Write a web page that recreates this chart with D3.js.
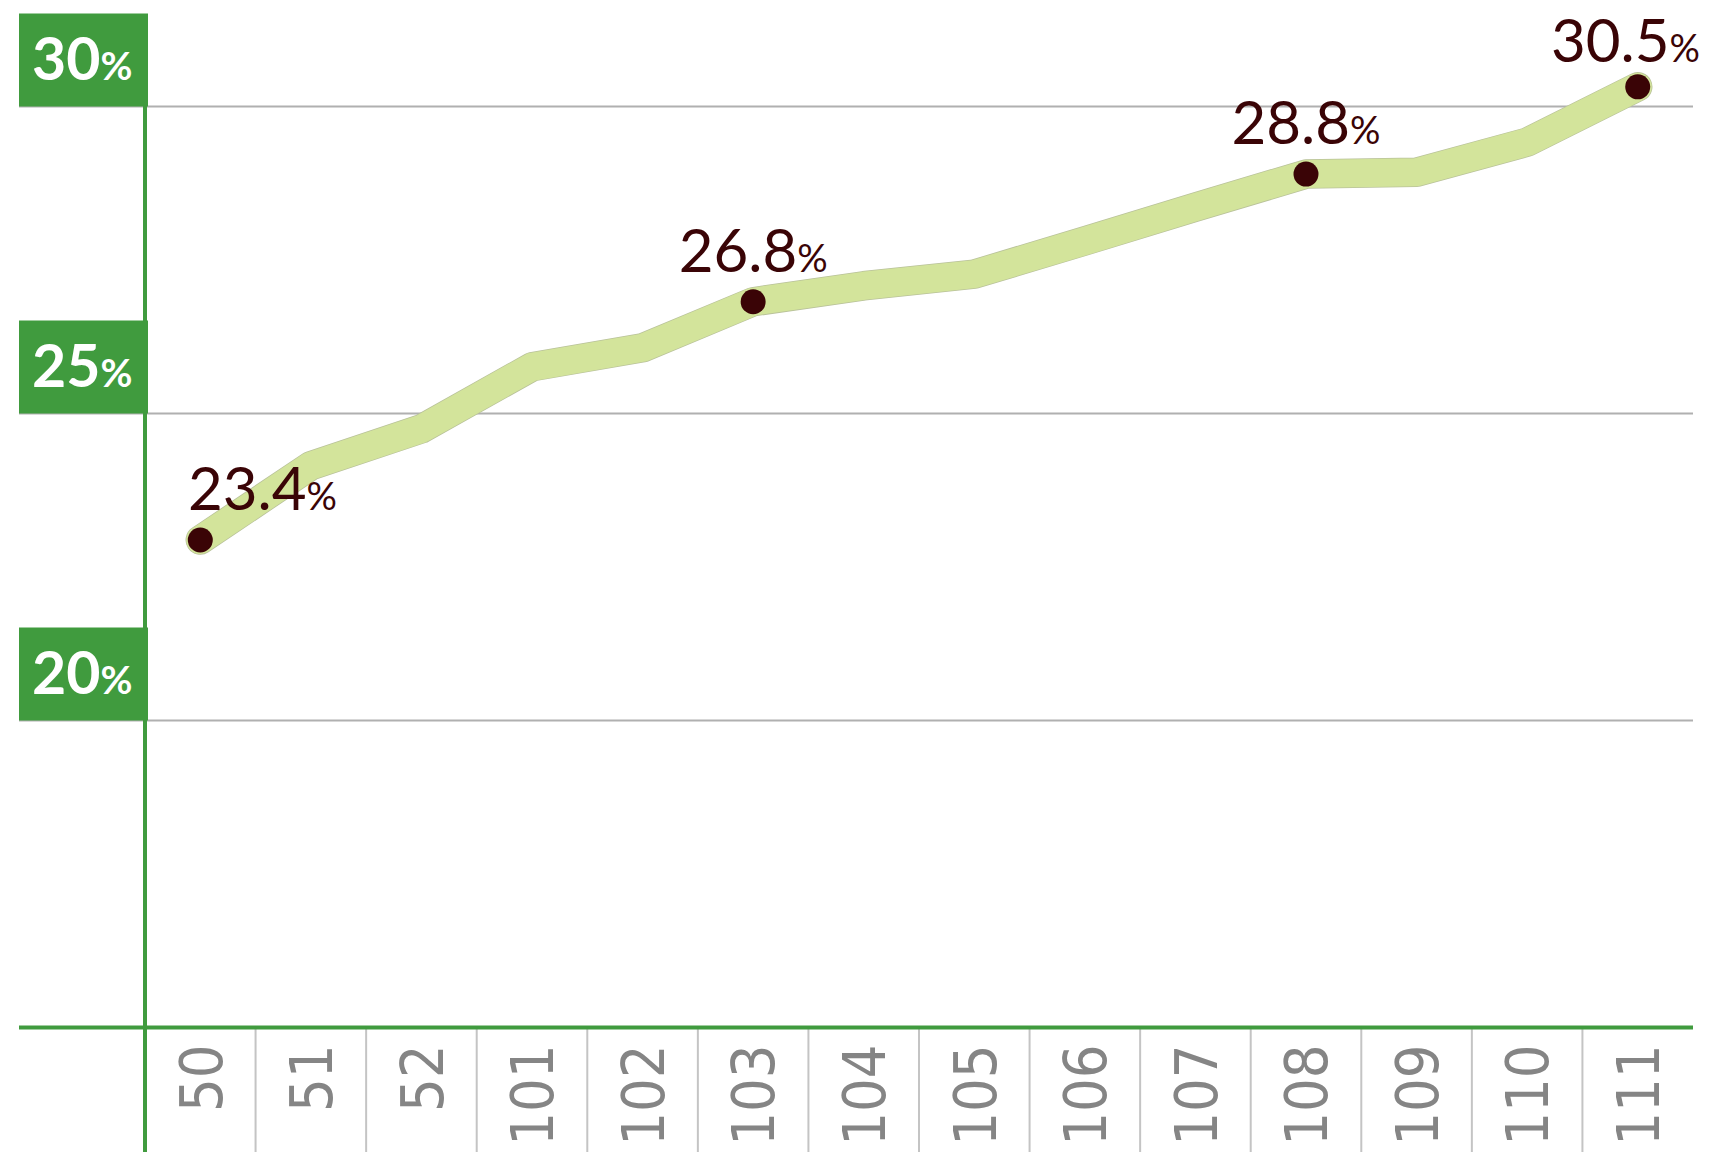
<!DOCTYPE html>
<html>
<head>
<meta charset="utf-8">
<script src="https://d3js.org/d3.v7.min.js"></script>
<style>
  body { margin: 0; background: #fff; }
  svg { display: block; }
</style>
</head>
<body>
<div id="chart"></div>
<script>
var width = 1710;
var height = 1152;

// categories along the bottom
var years = ["50", "51", "52", "101", "102", "103", "104", "105", "106", "107", "108", "109", "110", "111"];
// share (%) for each year
var rates = [22.94, 24.15, 24.75, 25.76, 26.07, 26.82, 27.08, 27.27, 27.81, 28.36, 28.90, 28.93, 29.42, 30.32];
// years that get a dot and a value label
var labelYears = ["50", "103", "108", "111"];
var labelTexts = ["23.4", "26.8", "28.8", "30.5"];
// y tick values shown in the green tags
var yTicks = [20, 25, 30];

var green = "#409b3e";
var maroon = "#3a0406";

var svg = d3.select("#chart")
    .append("svg")
    .attr("width", width)
    .attr("height", height);

var left = 145, right = 1693, bottom = 1027.5, tagLeft = 19;

var x = d3.scaleBand().domain(years).range([left, right]);
var y = d3.scaleLinear().domain([15, 30]).range([bottom, 106.5]);

function cx(yr) { return x(yr) + x.bandwidth() / 2; }

// horizontal grid lines
svg.selectAll(".grid")
    .data(yTicks)
    .enter()
    .append("line")
    .attr("class", "grid")
    .attr("x1", tagLeft)
    .attr("x2", right)
    .attr("y1", function(d) { return y(d); })
    .attr("y2", function(d) { return y(d); })
    .attr("stroke", "#b0b0b0")
    .attr("stroke-width", 2);

// vertical dividers below the baseline
svg.selectAll(".divider")
    .data(years.slice(1))
    .enter()
    .append("line")
    .attr("class", "divider")
    .attr("x1", function(d) { return x(d); })
    .attr("x2", function(d) { return x(d); })
    .attr("y1", bottom)
    .attr("y2", height)
    .attr("stroke", "#c4c4c4")
    .attr("stroke-width", 2);

// x axis labels (rotated)
var xAxis = svg.append("g")
    .attr("transform", "translate(0," + bottom + ")")
    .call(d3.axisBottom(x).tickSize(0));
xAxis.select(".domain").remove();
xAxis.selectAll("text")
    .attr("transform", "rotate(-90)")
    .attr("x", -17)
    .attr("y", 0)
    .attr("dy", "0.36em")
    .attr("text-anchor", "end")
    .attr("fill", "#858585")
    .style("font-family", "'DejaVu Sans Condensed', 'DejaVu Sans', sans-serif")
    .style("font-stretch", "condensed")
    .style("font-size", "59px");

// green y axis and baseline
svg.append("line")
    .attr("x1", left).attr("x2", left)
    .attr("y1", 14).attr("y2", height)
    .attr("stroke", green)
    .attr("stroke-width", 4);
svg.append("line")
    .attr("x1", tagLeft).attr("x2", right)
    .attr("y1", bottom).attr("y2", bottom)
    .attr("stroke", green)
    .attr("stroke-width", 4);

// y tick tags
var tags = svg.selectAll(".tag")
    .data(yTicks)
    .enter()
    .append("g")
    .attr("class", "tag")
    .attr("transform", function(d) { return "translate(" + tagLeft + "," + y(d) + ")"; });
tags.append("rect")
    .attr("x", 0)
    .attr("y", -93)
    .attr("width", left + 3 - tagLeft)
    .attr("height", 93)
    .attr("fill", green);
var tagText = tags.append("text")
    .attr("x", 13)
    .attr("y", -27)
    .attr("fill", "#fff")
    .style("font-family", "Lato, sans-serif")
    .style("font-weight", "bold");
tagText.append("tspan").style("font-size", "59px").text(function(d) { return d; });
tagText.append("tspan").style("font-size", "39px").text("%");

// the line
var points = years.map(function(yr, i) { return { year: yr, rate: rates[i] }; });
var line = d3.line()
    .x(function(d) { return cx(d.year); })
    .y(function(d) { return y(d.rate); });

svg.append("path")
    .datum(points)
    .attr("d", line)
    .attr("fill", "none")
    .attr("stroke", "#b9c29a")
    .attr("stroke-width", 29.5)
    .attr("stroke-linejoin", "round")
    .attr("stroke-linecap", "round");
svg.append("path")
    .datum(points)
    .attr("d", line)
    .attr("fill", "none")
    .attr("stroke", "#d3e49b")
    .attr("stroke-width", 28)
    .attr("stroke-linejoin", "round")
    .attr("stroke-linecap", "round");

// dots + value labels
var marked = points.filter(function(d) { return labelYears.indexOf(d.year) >= 0; });

svg.selectAll(".dot")
    .data(marked)
    .enter()
    .append("circle")
    .attr("class", "dot")
    .attr("cx", function(d) { return cx(d.year); })
    .attr("cy", function(d) { return y(d.rate); })
    .attr("r", 12.5)
    .attr("fill", maroon);

var labels = svg.selectAll(".vlabel")
    .data(marked)
    .enter()
    .append("text")
    .attr("class", "vlabel")
    .attr("x", function(d) { return cx(d.year); })
    // sit above the dot, but never closer than 62px to the top edge
    .attr("y", function(d) { return Math.max(y(d.rate) - 30, 62); })
    .attr("text-anchor", "middle")
    .attr("fill", maroon)
    .style("font-family", "Lato, sans-serif");
labels.append("tspan").style("font-size", "60px")
    .text(function(d) { return labelTexts[labelYears.indexOf(d.year)]; });
labels.append("tspan").style("font-size", "38px").text("%");

// keep labels clear of the y axis and the right edge
labels.each(function() {
    var bb = this.getBBox();
    if (bb.x < left + 43) {
        d3.select(this).attr("text-anchor", "start").attr("x", left + 43);
    } else if (bb.x + bb.width > width - 10) {
        d3.select(this).attr("text-anchor", "end").attr("x", width - 10);
    }
});
</script>
</body>
</html>
